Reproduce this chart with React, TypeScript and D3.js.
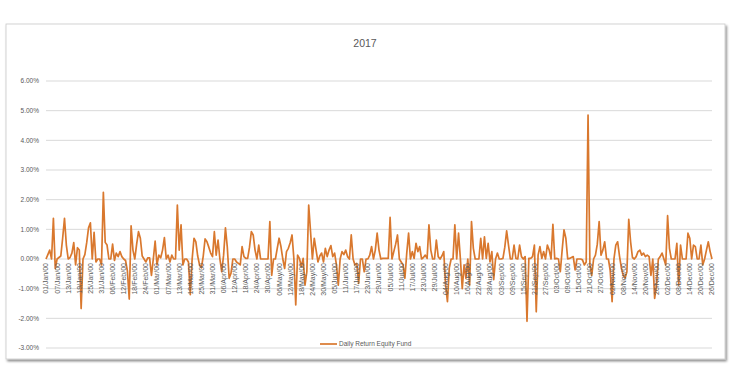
import React from "react";
import * as d3 from "d3";

const title = "2017";
const seriesName = "Daily Return Equity Fund";
const yTicks = [-3, -2, -1, 0, 1, 2, 3, 4, 5, 6];
const xTickLabels = [
  "01/Jan/00", "07/Jan/00", "13/Jan/00", "19/Jan/00", "25/Jan/00", "31/Jan/00",
  "06/Feb/00", "12/Feb/00", "18/Feb/00", "24/Feb/00", "01/Mar/00", "07/Mar/00",
  "13/Mar/00", "19/Mar/00", "25/Mar/00", "31/Mar/00", "06/Apr/00", "12/Apr/00",
  "18/Apr/00", "24/Apr/00", "30/Apr/00", "06/May/00", "12/May/00", "18/May/00",
  "24/May/00", "30/May/00", "05/Jun/00", "11/Jun/00", "17/Jun/00", "23/Jun/00",
  "29/Jun/00", "05/Jul/00", "11/Jul/00", "17/Jul/00", "23/Jul/00", "29/Jul/00",
  "04/Aug/00", "10/Aug/00", "16/Aug/00", "22/Aug/00", "28/Aug/00", "03/Sep/00",
  "09/Sep/00", "15/Sep/00", "21/Sep/00", "27/Sep/00", "03/Oct/00", "09/Oct/00",
  "15/Oct/00", "21/Oct/00", "27/Oct/00", "02/Nov/00", "08/Nov/00", "14/Nov/00",
  "20/Nov/00", "26/Nov/00", "02/Dec/00", "08/Dec/00", "14/Dec/00", "20/Dec/00",
  "26/Dec/00",
];
const tickStepDays = 6;

// daily return in percent, day serial 1..361
const dailyReturn = [
  0, 0.15, 0.3, 0, 1.37, -0.32, 0, 0.05, 0.1, 0.7,
  1.37, 0.47, 0, 0.05, 0.2, 0.55, -0.2, 0.38, 0.3, -1.67,
  0, 0.15, 0.55, 1.05, 1.22, 0, 0.9, -0.1, 0, 0,
  -0.2, 2.25, 0.56, 0.47, 0, 0, 0.5, -0.05, 0.2, 0.08,
  0.25, 0.08, 0, -0.05, -0.4, -1.35, 1.12, 0.3, 0, 0.5,
  0.92, 0.7, 0.1, 0, -0.1, 0.04, 0.04, -0.55, 0, 0.6,
  -0.2, 0.13, 0.04, 0.3, 0.72, 0, 0.13, -0.1, 0.13, 0,
  0, 1.82, 0.3, 1.15, -0.2, 0, 0, -0.1, -1.2, 0,
  0.7, 0.58, 0.1, -0.2, -0.3, 0.1, 0.68, 0.58, 0.4, 0.2,
  0.08, 0.92, 0.13, 0.64, 0, -0.43, 0.13, 1.05, 0.4, -0.65,
  -0.48, 0, 0, -0.1, -0.15, -0.2, 0.42, 0.08, 0.02, 0.02,
  0.4, 0.92, 0.81, 0.3, 0, 0.47, 0, 0, 0, 0,
  0, 1.26, -0.55, 0, 0, 0.36, 0.7, 0.42, 0, -0.32,
  0.25, 0.36, 0.55, 0.81, 0, -1.55, 0.13, 0.02, -0.26, 0.02,
  -0.88, -0.43, 1.82, 0.92, 0, 0.7, 0.3, -0.1, 0.1, 0.2,
  -0.1, 0.36, 0.08, 0.3, 0.45, 0.08, 0.2, -0.2, -0.88, 0,
  0.25, 0.15, 0.3, 0.08, 0, 0.81, 0, -0.2, -0.15, -0.82,
  0, 0, -0.43, 0, 0, 0.13, 0.42, 0, 0.3, 0.87,
  0.3, 0, 0.02, 0.02, 0.02, 0.02, 1.4, 0, 0.25, 0.5,
  0.81, 0, -0.1, -0.2, -0.65, 0.2, 0.87, 0, 0.25, 0.02,
  0.53, 0.25, 0.42, 0, 0.05, 0.13, 0.02, 1.15, 0.3, 0,
  0, 0.64, 0.08, 0, 0.1, 0.25, -0.88, -1.44, -0.3, 0,
  0, 1.15, 0, 0.87, 0, -1.0, -0.2, -0.65, 0, -0.88,
  1.26, 0.36, 0, 0, 0, 0.7, 0, 0.75, 0.02, 0.53,
  -0.1, 0.25, -0.7, 0, 0.2, 0, 0, 0.02, 0.4, 0.95,
  0.47, 0, 0, 0.47, 0.02, 0, 0.47, 0.08, 0, 0.08,
  -2.1, 0.02, 0.02, 0.08, 0.47, -1.78, 0.13, 0.42, 0.02, 0.25,
  0, 0.47, 0.3, 0, 1.17, 0, 0.02, 0, -0.43, 0.3,
  0.98, 0.7, 0, 0.02, 0.05, 0.08, -0.37, 0, 0, 0,
  -0.03, -0.2, -0.1, 4.85, -0.2, -0.55, 0, 0.13, 0.5, 1.26,
  0.13, 0.3, 0.58, 0, 0, -0.4, -1.44, 0, 0.47, 0.58,
  0.1, -0.3, -0.55, -0.65, -0.43, 1.34, 0.58, 0.05, 0, 0.08,
  0.25, 0.3, 0.13, 0.2, 0.08, 0.13, 0.08, -0.55, 0, -1.33,
  -0.88, 0, 0.08, 0.2, 0, -0.2, 1.46, 0.36, 0, 0,
  0, 0.53, -0.88, 0.47, 0, 0, 0, 0.87, 0.7, 0,
  0.47, 0.42, 0, 0, 0.47, -0.2, 0, 0.3, 0.58, 0.25, 0,
];

const FONT = "'Liberation Sans', Arial, sans-serif";
const TEXT = "#595959";
const GRID = "#d9d9d9";
const LINE = "#D9782E";

export default function App() {
  const W = 739;
  const H = 380;
  const x = d3.scaleLinear().domain([1, dailyReturn.length]).range([46, 712]);
  const y = d3.scaleLinear().domain([-3, 6]).range([348, 81]);
  const path = d3
    .line<number>()
    .x((_, i) => x(i + 1))
    .y((d) => y(d))(dailyReturn) as string;
  const fmt = (v: number) => `${v.toFixed(2)}%`;

  return (
    <svg
      width={W}
      height={H}
      style={{ position: "absolute", left: 0, top: 0, background: "#fff" }}
    >
      <defs>
        <filter id="shadow" x="-5%" y="-5%" width="110%" height="115%">
          <feDropShadow dx="1.5" dy="2" stdDeviation="1.3" floodColor="#000" floodOpacity="0.45" />
        </filter>
      </defs>
      <rect x={6} y={24} width={719} height={335} fill="#fff" stroke="#c8c8c8" strokeWidth={0.8} filter="url(#shadow)" />
      <text x={365} y={47} textAnchor="middle" fontFamily={FONT} fontSize={10.5} fill={TEXT}>
        {title}
      </text>
      {yTicks.map((t) => (
        <g key={t}>
          <line x1={46} x2={712} y1={y(t)} y2={y(t)} stroke={GRID} strokeWidth={1} />
          <text x={39} y={y(t)} dy="0.35em" textAnchor="end" fontFamily={FONT} fontSize={6.5} fill={TEXT}>
            {fmt(t)}
          </text>
        </g>
      ))}
      <path d={path} fill="none" stroke={LINE} strokeWidth={1.7} strokeLinejoin="round" />
      {xTickLabels.map((lab, i) => {
        const px = x(1 + i * tickStepDays);
        const py = y(0) + 4;
        return (
          <text
            key={lab}
            transform={`translate(${px},${py}) rotate(-90)`}
            dy="0.35em"
            textAnchor="end"
            fontFamily={FONT}
            fontSize={7}
            fill={TEXT}
          >
            {lab}
          </text>
        );
      })}
      <line x1={320} x2={337} y1={344} y2={344} stroke={LINE} strokeWidth={1.7} />
      <text x={339} y={344} dy="0.35em" fontFamily={FONT} fontSize={6.5} fill={TEXT}>
        {seriesName}
      </text>
    </svg>
  );
}
